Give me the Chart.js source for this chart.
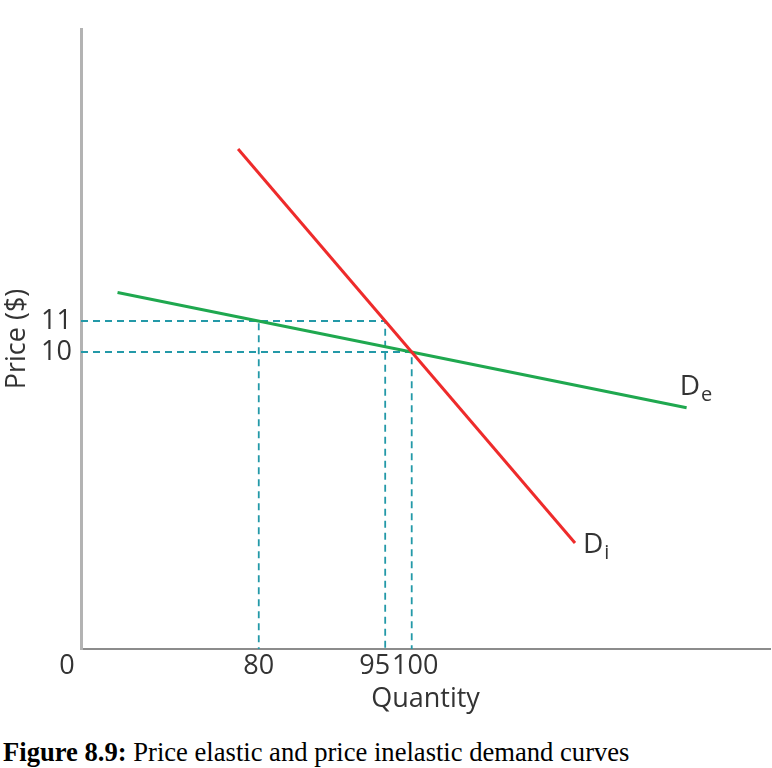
<!DOCTYPE html>
<html>
<head>
<meta charset="utf-8">
<script src="https://cdn.jsdelivr.net/npm/chart.js@4.4.1/dist/chart.umd.min.js"></script>
<style>
  body { margin: 0; background: #fff; }
  #wrap { position: relative; width: 772px; height: 725px; }
  .caption {
    position: absolute; left: 3px; top: 739px;
    font-family: "Liberation Serif", "Times New Roman", serif;
    font-size: 26.6px; line-height: 26px; color: #000; white-space: nowrap;
  }
</style>
</head>
<body>
<div id="wrap"><canvas id="demand-chart"></canvas></div>
<div class="caption"><b>Figure 8.9:</b> Price elastic and price inelastic demand curves</div>
<script>
// Quantity axis is schematic in the figure, so ticks sit at drawn positions (0-100 along the axis)
const quantityLabels = ['0', '80', '95', '100'];
const quantityAt = [0, 25.8, 44.15, 48.0];
const priceTicks = [10, 11];

// De: elastic demand, Di: inelastic demand (end points)
const elasticQty = [5.3, 87.9];
const elasticPrice = [11.92, 8.20];
const inelasticQty = [22.8, 71.7];
const inelasticPrice = [16.55, 3.84];

// dashed guides: which quantity tick meets which price
const guideQty = ['80', '95', '100'];
const guidePrice = [11, 11, 10];

const PRICE_MIN = 0.42, PRICE_MAX = 20.42;
const TEXT = '#333';

Chart.defaults.font.family = "'Open Sans', sans-serif";
Chart.defaults.color = TEXT;

function toPoints(xs, ys) {
  return xs.map((x, i) => ({ x: x, y: ys[i] }));
}

const guideSets = guideQty.map((label, i) => {
  const q = quantityAt[quantityLabels.indexOf(label)];
  const p = guidePrice[i];
  return {
    data: [{ x: 0, y: p }, { x: q, y: p }, { x: q, y: PRICE_MIN }],
    borderColor: '#2399a8',
    borderWidth: 1.8,
    borderDash: [7, 5],
    pointRadius: 0,
  };
});

// writes "D" with a subscript next to the end of a curve
const curveLabels = {
  id: 'curveLabels',
  afterDatasetsDraw(chart) {
    const ctx = chart.ctx;
    chart.data.datasets.forEach((ds, i) => {
      if (!ds.sub) return;
      const pts = chart.getDatasetMeta(i).data;
      const end = pts[pts.length - 1];
      const x = end.x + ds.labelDx, y = end.y + ds.labelDy;
      ctx.save();
      ctx.fillStyle = TEXT;
      ctx.textBaseline = 'alphabetic';
      ctx.textAlign = 'left';
      ctx.font = "28px 'Open Sans'";
      ctx.fillText('D', x, y);
      const w = ctx.measureText('D').width;
      ctx.font = "20px 'Open Sans'";
      ctx.fillText(ds.sub, x + w + 1, y + 6);
      ctx.restore();
    });
  }
};

new Chart(document.getElementById('demand-chart'), {
  type: 'line',
  data: {
    datasets: [
      {
        data: toPoints(inelasticQty, inelasticPrice),
        borderColor: '#ee2b2b', borderWidth: 3, pointRadius: 0,
        sub: 'i', labelDx: 8, labelDy: 10,
      },
      {
        data: toPoints(elasticQty, elasticPrice),
        borderColor: '#1fa84f', borderWidth: 3, pointRadius: 0,
        sub: 'e', labelDx: -7, labelDy: -13,
      },
      ...guideSets
    ]
  },
  options: {
    responsive: true,
    maintainAspectRatio: false,
    animation: false,
    layout: { padding: { top: 29, right: 2, bottom: 9, left: 0 } },
    plugins: { legend: { display: false }, tooltip: { enabled: false } },
    scales: {
      x: {
        type: 'linear',
        min: 0,
        max: 100,
        afterBuildTicks: (scale) => { scale.ticks = quantityAt.map(v => ({ value: v })); },
        afterFit: (scale) => { scale.height = 67; },
        ticks: {
          autoSkip: false, maxRotation: 0, minRotation: 0, padding: 1,
          font: { size: 27 },
          // 0 and 95 sit just left of their marks, 100 just right
          callback: (v) => {
            const label = quantityLabels[quantityAt.indexOf(v)];
            if (label === '0') return label + '    ';
            if (label === '95') return label + '   ';
            if (label === '100') return ' ' + label;
            return label;
          }
        },
        grid: { display: false, drawTicks: false },
        border: { display: true, color: '#8c8c8c', width: 2 },
        title: { display: true, text: 'Quantity', font: { size: 27 }, padding: { top: 0, bottom: 0 } }
      },
      y: {
        type: 'linear',
        min: PRICE_MIN,
        max: PRICE_MAX,
        afterBuildTicks: (scale) => { scale.ticks = priceTicks.map(v => ({ value: v })); },
        afterFit: (scale) => { scale.width = 81; },
        ticks: { padding: 9, font: { size: 27 } },
        grid: { display: false, drawTicks: false },
        border: { display: true, color: '#b3b3b3', width: 3 },
        title: { display: true, text: 'Price ($)', font: { size: 27 }, padding: { top: 1, bottom: 0 } }
      }
    }
  },
  plugins: [curveLabels]
});
</script>
</body>
</html>
